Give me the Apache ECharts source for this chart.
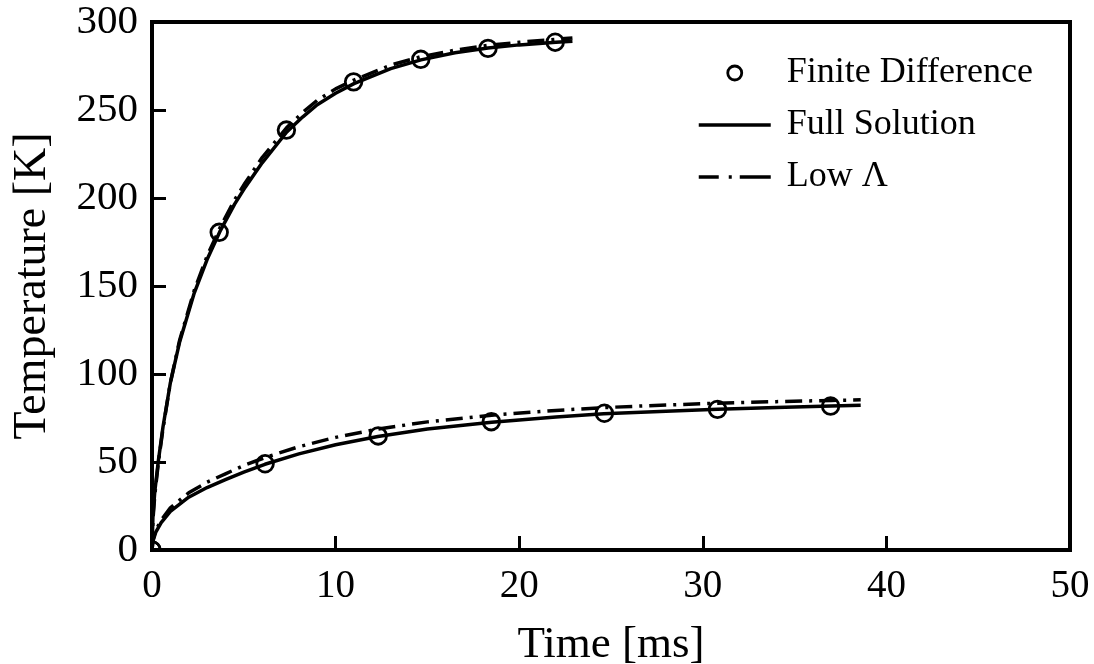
<!DOCTYPE html>
<html>
<head>
<meta charset="utf-8">
<title>Temperature vs Time</title>
<script src="https://cdn.jsdelivr.net/npm/echarts@6/dist/echarts.min.js"></script>
<style>
  html, body { margin: 0; padding: 0; background: #fff; }
  #chart { width: 1094px; height: 664px; }
</style>
</head>
<body>
<div id="chart"></div>
<script>
// Axis ticks
const xTicks = [0, 10, 20, 30, 40, 50];
const yTicks = [0, 50, 100, 150, 200, 250, 300];

// Fast-heating case (upper curves)
const upperTime      = [0, 0.05, 0.15, 0.35, 0.6, 1.0, 1.5, 2.3, 3.0, 3.7, 4.5, 5.07, 6.0, 7.34, 8.2, 9, 10, 11, 13, 14.65, 16.5, 18.3, 20, 22, 22.9];
const upperFull      = [0, 19, 33, 51, 70, 95, 118, 146, 165, 181, 196.5, 206, 220, 237.5, 246, 253, 259.5, 265, 273.5, 278.5, 282.5, 285.2, 287, 288.5, 289];
const upperLowLambda = [0, 17, 31, 50, 69, 95, 119, 147.5, 167, 183, 199, 208.5, 223, 240, 248.5, 255.5, 262, 267, 275.5, 280.3, 284, 286.7, 288.5, 290.2, 290.9];

// Slow-heating case (lower curves)
const lowerTime      = [0, 0.05, 0.2, 0.5, 1, 2, 3, 4, 5, 6.15, 8, 10, 12.3, 15, 18.5, 22, 24.6, 28, 30.8, 34, 37, 38.6];
const lowerFull      = [0, 5, 10, 15.5, 22, 30, 35.5, 40, 44.3, 48.7, 54.6, 59.8, 64.5, 68.7, 72.6, 75.6, 77.4, 78.9, 80, 81, 81.8, 82.2];
const lowerLowLambda = [0, 5.5, 11, 17, 24, 32.5, 38.5, 43.3, 48, 52.5, 58.7, 64, 68.7, 72.8, 76.6, 79.3, 80.9, 82.4, 83.4, 84.3, 85, 85.3];

// Finite difference samples
const fdUpperTime = [0, 3.66, 7.32, 10.98, 14.64, 18.3, 21.96];
const fdUpperTemp = [0, 180.5, 238.6, 266, 278.8, 285, 288.5];
const fdLowerTime = [0, 6.16, 12.32, 18.48, 24.64, 30.8, 36.96];
const fdLowerTemp = [0, 49, 64.8, 72.9, 77.7, 79.9, 81.8];

const FONT = 'Liberation Serif';
const zip = (a, b) => a.map((v, i) => [v, b[i]]);

const SOLID = 'Full Solution';
const DASHDOT = 'Low \u039b';
const FD = 'Finite Difference';
const DASH_DOT = [17, 7, 3, 7];
const LINE_W = 3.5;

const lineBase = {
  type: 'line',
  symbol: 'none',
  showSymbol: false,
  smooth: false,
  silent: true,
  z: 2
};

// Open circles, clipped to the plotting area
function circleItem(params, api) {
  const p = api.coord([api.value(0), api.value(1)]);
  const cs = params.coordSys;
  return {
    type: 'circle',
    shape: { cx: p[0], cy: p[1], r: 8.3 },
    style: { fill: 'none', stroke: '#000', lineWidth: 2.8 },
    clipPath: { type: 'rect', shape: { x: cs.x, y: cs.y, width: cs.width, height: cs.height } }
  };
}

const chart = echarts.init(document.getElementById('chart'), null, { renderer: 'canvas' });

const hiddenSymbol = { color: 'transparent', borderColor: 'transparent', borderWidth: 0, opacity: 0 };

chart.setOption({
  animation: false,
  backgroundColor: '#fff',
  grid: {
    left: 152, right: 24, top: 22, bottom: 114,
    outerBoundsMode: 'none',
    containLabel: false,
    show: true, borderColor: '#000', borderWidth: 4, backgroundColor: 'transparent'
  },
  xAxis: {
    type: 'value',
    min: xTicks[0], max: xTicks[xTicks.length - 1], interval: 10,
    name: 'Time [ms]',
    nameLocation: 'middle',
    nameGap: 73,
    nameTextStyle: { fontFamily: FONT, fontSize: 45, color: '#000' },
    axisLine: { show: true, onZero: false, lineStyle: { color: '#000', width: 4 } },
    axisTick: { show: true, inside: true, length: 14, lineStyle: { color: '#000', width: 3 } },
    axisLabel: { fontFamily: FONT, fontSize: 39, color: '#000', margin: 17 },
    splitLine: { show: false }
  },
  yAxis: {
    type: 'value',
    min: yTicks[0], max: yTicks[yTicks.length - 1], interval: 50,
    name: 'Temperature [K]',
    nameLocation: 'middle',
    nameGap: 96,
    nameTextStyle: { fontFamily: FONT, fontSize: 46, color: '#000' },
    axisLine: { show: true, onZero: false, lineStyle: { color: '#000', width: 4 } },
    axisTick: { show: true, inside: true, length: 14, lineStyle: { color: '#000', width: 3 } },
    axisLabel: { fontFamily: FONT, fontSize: 41, color: '#000', margin: 14, padding: [8, 0, 0, 0] },
    splitLine: { show: false }
  },
  legend: {
    orient: 'vertical',
    left: 697,
    top: 55,
    padding: 0,
    itemWidth: 72,
    itemHeight: 14,
    itemGap: 16,
    textStyle: { fontFamily: FONT, fontSize: 36, color: '#000', lineHeight: 34, padding: [0, 0, 0, 11] },
    data: [
      { name: FD, icon: 'circle', itemStyle: { color: 'transparent', borderColor: '#000', borderWidth: 2.8 } },
      { name: SOLID, itemStyle: hiddenSymbol, lineStyle: { color: '#000', width: LINE_W, type: 'solid' } },
      { name: DASHDOT, itemStyle: hiddenSymbol, lineStyle: { color: '#000', width: LINE_W, type: [20, 10, 3, 8, 34, 10] } }
    ]
  },
  series: [
    Object.assign({}, lineBase, {
      name: SOLID,
      data: zip(upperTime, upperFull),
      lineStyle: { color: '#000', width: LINE_W, type: 'solid', join: 'round' },
      itemStyle: { color: '#000' }
    }),
    Object.assign({}, lineBase, {
      name: SOLID,
      data: zip(lowerTime, lowerFull),
      lineStyle: { color: '#000', width: LINE_W, type: 'solid', join: 'round' },
      itemStyle: { color: '#000' }
    }),
    Object.assign({}, lineBase, {
      name: DASHDOT,
      data: zip(upperTime, upperLowLambda),
      lineStyle: { color: '#000', width: LINE_W, type: DASH_DOT },
      itemStyle: { color: '#000' }
    }),
    Object.assign({}, lineBase, {
      name: DASHDOT,
      data: zip(lowerTime, lowerLowLambda),
      lineStyle: { color: '#000', width: LINE_W, type: DASH_DOT },
      itemStyle: { color: '#000' }
    }),
    {
      type: 'custom',
      name: FD,
      data: zip(fdUpperTime, fdUpperTemp),
      renderItem: circleItem,
      itemStyle: { color: '#000' },
      z: 3
    },
    {
      type: 'custom',
      name: FD,
      data: zip(fdLowerTime, fdLowerTemp),
      renderItem: circleItem,
      itemStyle: { color: '#000' },
      z: 3
    }
  ]
});
</script>
</body>
</html>
